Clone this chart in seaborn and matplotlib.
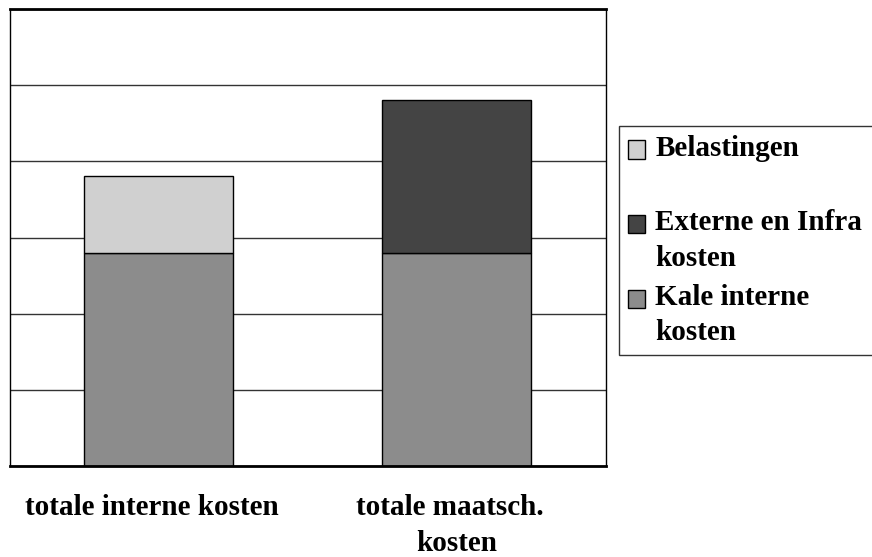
import pandas as pd
import numpy as np
import seaborn as sns
import matplotlib.pyplot as plt
from matplotlib.patches import Patch, Rectangle
from matplotlib.legend_handler import HandlerPatch

# categories and stacked segments (grid unit = 1)
categories = ["totale interne kosten", "totale maatsch. kosten"]
tick_labels = ["totale interne kosten  ", "totale maatsch.  \nkosten"]
kale_interne = [2.79, 2.79]
belastingen = [1.02, 0.0]
externe_infra = [0.0, 2.02]

c_kale = "#8c8c8c"
c_bel = "#d0d0d0"
c_ext = "#444444"

sns.set_style("white")
plt.rcParams['font.family'] = ['Liberation Serif', 'DejaVu Serif']
plt.rcParams['font.weight'] = 'bold'
plt.rcParams['text.color'] = 'black'
plt.rcParams['xtick.color'] = 'black'

FS = 21

fig = plt.figure(figsize=(8.72, 5.57), dpi=100)
ax = fig.add_axes([10 / 872, 1 - 466 / 557, 595.5 / 872, 457 / 557])

base = pd.DataFrame({'cat': categories, 'val': kale_interne})
top_bel = pd.DataFrame({'cat': categories[:1], 'val': belastingen[:1]})
top_ext = pd.DataFrame({'cat': categories[1:], 'val': externe_infra[1:]})

sns.barplot(data=base, x='cat', y='val', order=categories, color=c_kale,
            saturation=1, width=0.5, edgecolor='black', linewidth=1, ax=ax)
sns.barplot(data=top_bel, x='cat', y='val', order=categories, color=c_bel,
            saturation=1, width=0.5, edgecolor='black', linewidth=1,
            bottom=kale_interne[0], ax=ax)
sns.barplot(data=top_ext, x='cat', y='val', order=categories, color=c_ext,
            saturation=1, width=0.5, edgecolor='black', linewidth=1,
            bottom=kale_interne[1], ax=ax)

ax.set_xlim(-0.5, 1.5)
ax.set_ylim(0, 6)
ax.set_yticks(np.arange(0, 7, 1))
ax.set_yticklabels([])
ax.tick_params(axis='y', length=0)
ax.yaxis.grid(True, color='#333333', linewidth=1)
ax.set_axisbelow(True)

ax.set_xticks([0, 1])
ax.set_xticklabels(tick_labels, fontsize=FS, fontweight='bold', linespacing=1.45,
                   color='black')
ax.set_xticks([-0.5, 0.5, 1.5], minor=True)
ax.tick_params(axis='x', which='major', length=0, pad=20)
ax.tick_params(axis='x', which='minor', length=8, width=1, color='black', direction='out')
ax.set_xlabel('')
ax.set_ylabel('')

for s in ax.spines.values():
    s.set_visible(True)
    s.set_color('black')
    s.set_linewidth(1)
ax.spines['top'].set_linewidth(2)
ax.spines['bottom'].set_linewidth(2)


# legend squares sit on the first line of each two-line label
def first_line_patch(legend, orig_handle, xdescent, ydescent, width, height, fontsize):
    return Rectangle((-xdescent, -ydescent + 12.0), width, height)


handles = [Patch(facecolor=c_bel, edgecolor='black'),
           Patch(facecolor=c_ext, edgecolor='black'),
           Patch(facecolor=c_kale, edgecolor='black')]
labels = ["Belastingen\n ", "Externe en Infra \nkosten", "Kale interne\nkosten"]
leg = fig.legend(handles, labels, loc='upper left',
                 bbox_to_anchor=(619 / 872, 1 - 126 / 557),
                 prop={'size': FS, 'weight': 'bold'},
                 frameon=True, fancybox=False, shadow=False,
                 handlelength=0.6, handleheight=0.6, handletextpad=0.35,
                 borderpad=0.3, labelspacing=0.42, borderaxespad=0,
                 handler_map={Patch: HandlerPatch(patch_func=first_line_patch)})
for t in leg.get_texts():
    t.set_linespacing(1.4)
    t.set_color('black')
leg.get_frame().set_edgecolor('black')
leg.get_frame().set_linewidth(1)

plt.savefig("out.png", dpi=100)
plt.close()
